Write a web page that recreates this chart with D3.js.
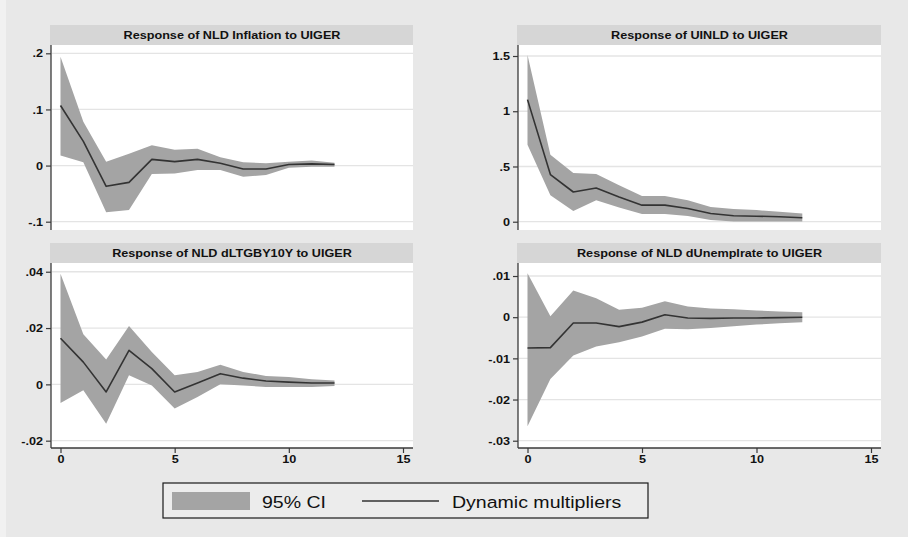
<!DOCTYPE html>
<html>
<head>
<meta charset="utf-8">
<script src="https://cdn.jsdelivr.net/npm/d3@7"></script>
<style>
  body { margin: 0; background: #e8e8e8; }
  svg { display: block; }
</style>
</head>
<body>
<svg id="chart" width="908" height="537"></svg>
<script>
// Impulse-response horizon (steps after the UIGER shock)
const horizon = [0, 1, 2, 3, 4, 5, 6, 7, 8, 9, 10, 11, 12];
const xTicks = [0, 5, 10, 15];

// Response of NLD Inflation
const inflIrf = [0.107, 0.043, -0.037, -0.030, 0.011, 0.007, 0.011, 0.004, -0.006, -0.006, 0.002, 0.003, 0.002];
const inflHi  = [0.194, 0.078, 0.007, 0.021, 0.036, 0.028, 0.030, 0.015, 0.006, 0.004, 0.007, 0.009, 0.005];
const inflLo  = [0.018, 0.006, -0.083, -0.079, -0.015, -0.014, -0.008, -0.008, -0.020, -0.017, -0.004, -0.002, -0.002];
const inflTicks = [-0.1, 0, 0.1, 0.2];

// Response of UINLD
const uinldIrf = [1.105, 0.427, 0.269, 0.305, 0.224, 0.150, 0.150, 0.120, 0.075, 0.054, 0.050, 0.045, 0.036];
const uinldHi  = [1.510, 0.606, 0.442, 0.433, 0.329, 0.233, 0.233, 0.194, 0.134, 0.114, 0.105, 0.090, 0.075];
const uinldLo  = [0.696, 0.239, 0.096, 0.194, 0.129, 0.069, 0.069, 0.051, 0.015, 0.002, 0.001, 0.001, 0.001];
const uinldTicks = [0, 0.5, 1, 1.5];

// Response of NLD dLTGBY10Y
const ltgbIrf = [0.0164, 0.0079, -0.0027, 0.0121, 0.0056, -0.0027, 0.0005, 0.0038, 0.0022, 0.0012, 0.0008, 0.0005, 0.0005];
const ltgbHi  = [0.0393, 0.0178, 0.0088, 0.0207, 0.0115, 0.0032, 0.0044, 0.0070, 0.0044, 0.0030, 0.0026, 0.0018, 0.0014];
const ltgbLo  = [-0.0066, -0.0021, -0.0140, 0.0032, -0.0004, -0.0086, -0.0045, 0.0000, -0.0004, -0.0009, -0.0009, -0.0009, -0.0006];
const ltgbTicks = [-0.02, 0, 0.02, 0.04];

// Response of NLD dUnemplrate
const unempIrf = [-0.0075, -0.0074, -0.0014, -0.0014, -0.0023, -0.0012, 0.0006, -0.0002, -0.0003, -0.0002, -0.0002, -0.0001, 0.0000];
const unempHi  = [0.0107, 0.0002, 0.0065, 0.0046, 0.0018, 0.0023, 0.0039, 0.0026, 0.0021, 0.0019, 0.0016, 0.0014, 0.0012];
const unempLo  = [-0.0265, -0.0150, -0.0093, -0.0071, -0.0061, -0.0047, -0.0028, -0.0029, -0.0026, -0.0022, -0.0018, -0.0015, -0.0012];
const unempTicks = [-0.03, -0.02, -0.01, 0, 0.01];

const legendLabels = ["95% CI", "Dynamic multipliers"];

// Panel layout: plot rectangles and the value range spanned by each plot's height
const panels = [
  { title: "Response of NLD Inflation to UIGER", irf: inflIrf, lo: inflLo, hi: inflHi, ticks: inflTicks,
    x0: 51, x1: 413, y0: 45, y1: 230, yDom: [-0.1148, 0.2148], xAxis: false },
  { title: "Response of UINLD to UIGER", irf: uinldIrf, lo: uinldLo, hi: uinldHi, ticks: uinldTicks,
    x0: 518, x1: 881, y0: 45, y1: 230, yDom: [-0.075, 1.5996], xAxis: false },
  { title: "Response of NLD dLTGBY10Y to UIGER", irf: ltgbIrf, lo: ltgbLo, hi: ltgbHi, ticks: ltgbTicks,
    x0: 51, x1: 413, y0: 263, y1: 448, yDom: [-0.0226, 0.0431], xAxis: true },
  { title: "Response of NLD dUnemplrate to UIGER", irf: unempIrf, lo: unempLo, hi: unempHi, ticks: unempTicks,
    x0: 518, x1: 881, y0: 263, y1: 448, yDom: [-0.03177, 0.01316], xAxis: true }
];

const svg = d3.select("#chart");
const FONT = "'Liberation Sans', Arial, Helvetica, sans-serif";
const BAND = "#a4a4a4", LINE = "#333333", AXIS = "#3a3a3a";

// Stata-style numeric labels: drop the leading zero (.5, -.02)
const fmt = v => {
  if (v === 0) return "0";
  const s = String(+v.toPrecision(6));
  return s.replace(/^(-?)0\./, "$1.");
};

svg.append("rect").attr("width", 908).attr("height", 537).attr("fill", "#e8e8e8");
svg.append("rect").attr("width", 6).attr("height", 537).attr("fill", "#f1f1f1");

panels.forEach(p => {
  const g = svg.append("g");
  const x = d3.scaleLinear().domain([0, 15]).range([p.x0 + 9.5, p.x1 - 10]);
  const y = d3.scaleLinear().domain(p.yDom).range([p.y1, p.y0]);

  // title strip
  g.append("rect").attr("x", p.x0 - 1).attr("y", p.y0 - 20).attr("width", p.x1 - p.x0 + 1).attr("height", 20)
    .attr("fill", "#d6d6d6");
  g.append("text")
    .attr("transform", `translate(${(p.x0 + p.x1) / 2},${p.y0 - 6}) scale(1.1,1)`)
    .attr("text-anchor", "middle").attr("font-family", FONT).attr("font-weight", "bold")
    .attr("font-size", 11.5).attr("fill", "#111").text(p.title);

  // plot region
  g.append("rect").attr("x", p.x0).attr("y", p.y0).attr("width", p.x1 - p.x0).attr("height", p.y1 - p.y0)
    .attr("fill", "#ffffff");

  // horizontal grid
  g.append("g").selectAll("line").data(p.ticks).join("line")
    .attr("x1", p.x0 + 1).attr("x2", p.x1)
    .attr("y1", d => y(d)).attr("y2", d => y(d))
    .attr("stroke", "#e4e4e4").attr("stroke-width", 1.3);

  // confidence band
  const area = d3.area().x((d, i) => x(horizon[i])).y0((d, i) => y(p.lo[i])).y1((d, i) => y(p.hi[i]));
  g.append("path").datum(p.irf).attr("d", area).attr("fill", BAND);

  // dynamic multiplier
  const line = d3.line().x((d, i) => x(horizon[i])).y(d => y(d));
  g.append("path").datum(p.irf).attr("d", line).attr("fill", "none")
    .attr("stroke", LINE).attr("stroke-width", 1.6).attr("stroke-linejoin", "round");

  // y axis
  const yAx = g.append("g").attr("transform", `translate(${p.x0},0)`)
    .call(d3.axisLeft(y).tickValues(p.ticks).tickFormat(fmt).tickSize(5).tickPadding(3));
  yAx.select(".domain").attr("d", `M0,${p.y0}V${p.y1}`).attr("stroke", AXIS).attr("stroke-width", 1.3);
  yAx.selectAll(".tick line").attr("stroke", AXIS).attr("stroke-width", 1.2);
  yAx.selectAll(".tick text")
    .attr("transform", "scale(1.1,1)").attr("x", -8 / 1.1)
    .attr("font-family", FONT).attr("font-weight", "bold")
    .attr("font-size", 11.5).attr("fill", "#111");

  // x axis (bottom row only)
  if (p.xAxis) {
    const xAx = g.append("g").attr("transform", `translate(0,${p.y1})`)
      .call(d3.axisBottom(x).tickValues(xTicks).tickFormat(d3.format("d")).tickSize(5).tickPadding(2));
    xAx.select(".domain").attr("d", `M${p.x0},0H${p.x1}`).attr("stroke", AXIS).attr("stroke-width", 1.3);
    xAx.selectAll(".tick line").attr("stroke", AXIS).attr("stroke-width", 1.2);
    xAx.selectAll(".tick text").attr("transform", "scale(1.1,1)").attr("x", 0)
      .attr("font-family", FONT).attr("font-weight", "bold").attr("font-size", 11.5).attr("fill", "#111");
  }
});

// legend
const lg = svg.append("g");
lg.append("rect").attr("x", 163).attr("y", 483).attr("width", 485).attr("height", 35)
  .attr("fill", "#ececec").attr("stroke", "#1a1a1a").attr("stroke-width", 1.2);
lg.append("rect").attr("x", 172).attr("y", 492).attr("width", 78).attr("height", 18).attr("fill", BAND);
lg.append("text").attr("transform", "translate(262,508) scale(1.15,1)")
  .attr("font-family", FONT).attr("font-size", 17).attr("fill", "#111").text(legendLabels[0]);
lg.append("line").attr("x1", 362).attr("x2", 439).attr("y1", 501).attr("y2", 501)
  .attr("stroke", LINE).attr("stroke-width", 1.6);
lg.append("text").attr("transform", "translate(452,508) scale(1.15,1)")
  .attr("font-family", FONT).attr("font-size", 17).attr("fill", "#111").text(legendLabels[1]);
</script>
</body>
</html>
